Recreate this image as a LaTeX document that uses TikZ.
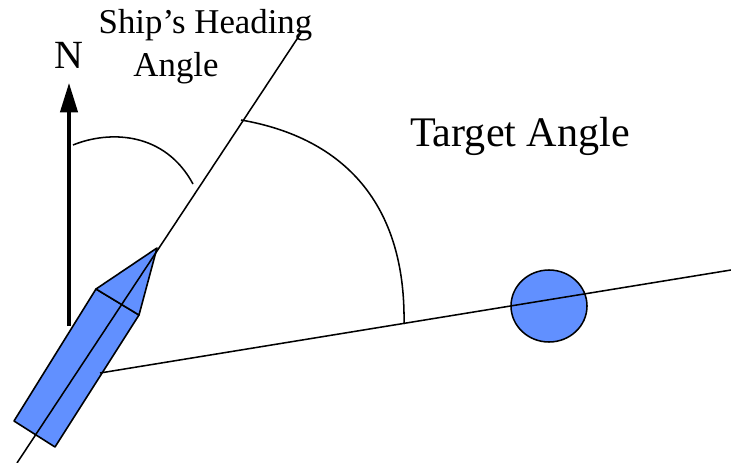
\documentclass[tikz,border=0pt]{standalone}
\usepackage{fontspec}
\setmainfont{Liberation Serif}
\usetikzlibrary{arrows.meta,shapes.geometric}
\tikzset{
  hull/.style={draw,fill=shipblue,line width=1.2pt,line join=round},
  thinline/.style={line width=1.15pt},
}
\definecolor{shipblue}{RGB}{97,144,255}
\begin{document}
\begin{tikzpicture}[x=0.75pt,y=-0.75pt]
  \useasboundingbox (0,0) rectangle (731,463);
  \coordinate (sternend) at (17,463);
  \coordinate (headend) at (301,33);
  \coordinate (bow) at (157,248);
  \coordinate (portfront) at (96,289);
  \coordinate (starfront) at (139,315);
  \coordinate (starback) at (55,447);
  \coordinate (portback) at (14,421);
  \coordinate (targetstart) at (100,373);
  \coordinate (targetend) at (731,270);
  \coordinate (northbase) at (69,326);
  \coordinate (northtip) at (69,83);
  \draw[hull] (portfront) -- (starfront) -- (starback) -- (portback) -- cycle;
  \draw[hull] (portfront) -- (bow) -- (starfront) -- cycle;
  \node[draw,fill=shipblue,ellipse,line width=1.15pt,minimum width=57pt,minimum height=54pt,inner sep=0pt] (target) at (549,306) {};
  \draw[thinline] (sternend) -- (headend);
  \draw[thinline] (targetstart) -- (targetend);
  \draw[line width=2.4pt,-{Triangle[length=22pt,width=13pt]}] (northbase) -- (northtip);
  \draw[thinline] (73,145) .. controls (110,130) and (165,132) .. (193,184);
  \draw[thinline] (241,120) .. controls (345,138) and (406,205) .. (404,324);
  \node[font=\fontsize{30}{32}\selectfont] (north) at (68.5,55) {N};
  \node[font=\fontsize{26.1}{31}\selectfont] (heading) at (205.5,25) {Ship’s Heading};
  \node[font=\fontsize{26.1}{31}\selectfont] (headingangle) at (176,68) {Angle};
  \node[font=\fontsize{31.6}{36}\selectfont] (targetangle) at (520,136) {Target Angle};
\end{tikzpicture}
\end{document}
